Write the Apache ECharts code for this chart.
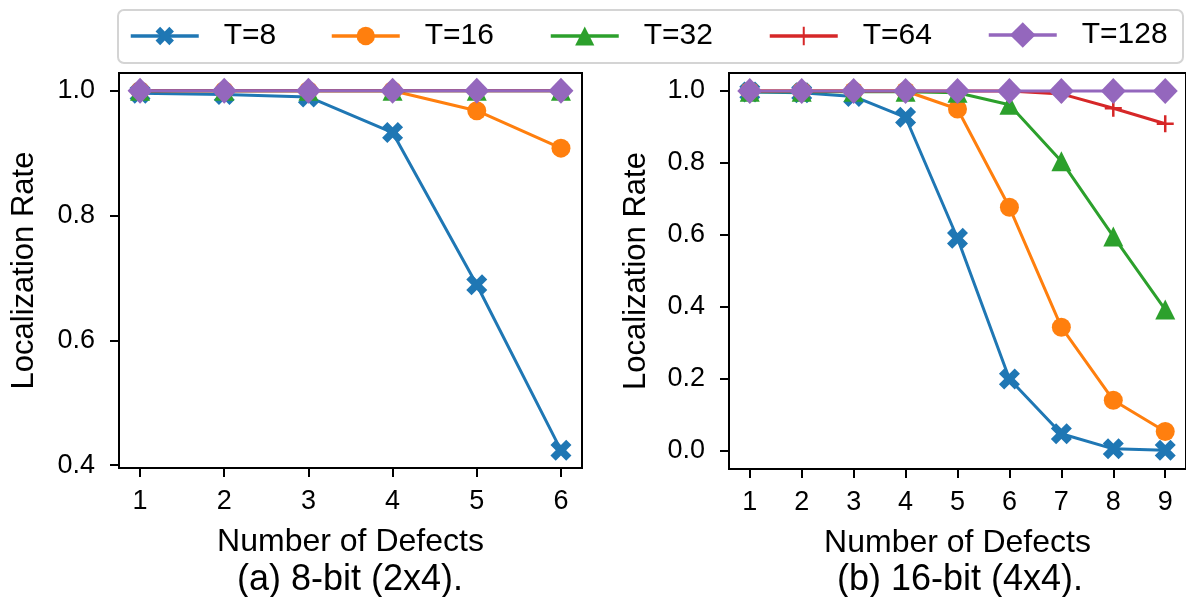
<!DOCTYPE html>
<html>
<head>
<meta charset="utf-8">
<script src="https://cdn.jsdelivr.net/npm/echarts@6/dist/echarts.min.js"></script>
<style>
  html, body { margin: 0; padding: 0; background: #fff; }
  #chart { width: 1186px; height: 597px; }
</style>
</head>
<body>
<div id="chart"></div>
<script>
// x values (number of defects)
const defectsA = [1, 2, 3, 4, 5, 6]
const defectsB = [1, 2, 3, 4, 5, 6, 7, 8, 9]
const seriesNames = ['T=8', 'T=16', 'T=32', 'T=64', 'T=128']

// (a) 8-bit (2x4)
const rateA_T8 = [0.996, 0.994, 0.990, 0.933, 0.689, 0.424]
const rateA_T16 = [1.0, 1.0, 1.0, 1.0, 0.968, 0.908]
const rateA_T32 = [1.0, 1.0, 1.0, 1.0, 1.0, 1.0]
const rateA_T64 = [1.0, 1.0, 1.0, 1.0, 1.0, 1.0]
const rateA_T128 = [1.0, 1.0, 1.0, 1.0, 1.0, 1.0]

// (b) 16-bit (4x4)
const rateB_T8 = [0.997, 0.995, 0.985, 0.927, 0.591, 0.200, 0.048, 0.006, 0.002]
const rateB_T16 = [1.0, 1.0, 1.0, 1.0, 0.950, 0.677, 0.344, 0.141, 0.054]
const rateB_T32 = [0.998, 0.998, 0.998, 0.998, 0.995, 0.962, 0.805, 0.596, 0.393]
const rateB_T64 = [1.0, 1.0, 1.0, 1.0, 1.0, 1.0, 0.992, 0.952, 0.909]
const rateB_T128 = [1.0, 1.0, 1.0, 1.0, 1.0, 1.0, 1.0, 1.0, 1.0]

const yTicksA = [0.4, 0.6, 0.8, 1.0]
const yTicksB = [0.0, 0.2, 0.4, 0.6, 0.8, 1.0]
const captions = ['(a) 8-bit (2x4).', '(b) 16-bit (4x4).']

const colors = ['#1f77b4', '#ff7f0e', '#2ca02c', '#d62728', '#9467bd']
// matplotlib-like markers: filled X, circle, triangle, plus, diamond
const symbols = [
  'path://M1,0L2,1L3,0L4,1L3,2L4,3L3,4L2,3L1,4L0,3L1,2L0,1Z',
  'circle',
  'triangle',
  'path://M0,5L10,5M5,0L5,10',
  'diamond'
]
const symbolSizes = [21, 19, 20, 17, [25, 26]]
const legendIconH = [23, 23, 24, 23, 32]
const legendLeft = [129, 330, 549, 768, 987]
const font = 'Liberation Sans'

function makeSeries(idx, xs, ys, gridIdx) {
  let color = colors[idx]
  let itemStyle = { color: color }
  if (idx === 3) {
    itemStyle = { color: color, borderColor: color, borderWidth: 2.5 }
  }
  return {
    name: seriesNames[idx],
    type: 'line',
    xAxisIndex: gridIdx,
    yAxisIndex: gridIdx,
    data: xs.map((x, i) => [x, ys[i]]),
    symbol: symbols[idx],
    symbolSize: symbolSizes[idx],
    showAllSymbol: true,
    lineStyle: { color: color, width: 3 },
    itemStyle: itemStyle,
    z: 2 + idx,
    emphasis: { disabled: true }
  }
}

function xAxis(gridIdx, xs, min, max) {
  return {
    type: 'value',
    gridIndex: gridIdx,
    min: min,
    max: max,
    name: 'Number of Defects',
    nameLocation: 'middle',
    nameGap: 58,
    nameTextStyle: { fontFamily: font, fontSize: 32, color: '#000' },
    axisLine: { show: false, onZero: false },
    splitLine: { show: false },
    axisTick: { show: true, length: 9, customValues: xs, lineStyle: { color: '#000', width: 2 } },
    axisLabel: { customValues: xs, margin: 20, fontFamily: font, fontSize: 27, color: '#000' }
  }
}

function yAxis(gridIdx, ticks, min, max, gap) {
  return {
    type: 'value',
    gridIndex: gridIdx,
    min: min,
    max: max,
    name: 'Localization Rate',
    nameLocation: 'middle',
    nameRotate: 90,
    nameGap: gap,
    nameTextStyle: { fontFamily: font, fontSize: 31, color: '#000' },
    axisLine: { show: false, onZero: false },
    splitLine: { show: false },
    axisTick: { show: true, length: 9, customValues: ticks, lineStyle: { color: '#000', width: 2 } },
    axisLabel: {
      customValues: ticks,
      margin: 24,
      fontFamily: font,
      fontSize: 27,
      color: '#000',
      formatter: v => v.toFixed(1)
    }
  }
}

const series = [
  makeSeries(0, defectsA, rateA_T8, 0),
  makeSeries(1, defectsA, rateA_T16, 0),
  makeSeries(2, defectsA, rateA_T32, 0),
  makeSeries(3, defectsA, rateA_T64, 0),
  makeSeries(4, defectsA, rateA_T128, 0),
  makeSeries(0, defectsB, rateB_T8, 1),
  makeSeries(1, defectsB, rateB_T16, 1),
  makeSeries(2, defectsB, rateB_T32, 1),
  makeSeries(3, defectsB, rateB_T64, 1),
  makeSeries(4, defectsB, rateB_T128, 1)
]

// one legend per entry so the columns sit where matplotlib put them
const legends = seriesNames.map((name, i) => ({
  data: [name],
  left: legendLeft[i],
  top: 36 - Math.max(legendIconH[i], 30) / 2,
  padding: 0,
  itemWidth: 68,
  itemHeight: legendIconH[i],
  selectedMode: false,
  lineStyle: { width: 3.5 },
  textStyle: { fontFamily: font, fontSize: 30, color: '#000', padding: [0, 0, 0, 20] }
}))

const myChart = echarts.init(document.getElementById('chart'), null, { renderer: 'canvas' })
myChart.setOption({
  animation: false,
  backgroundColor: '#fff',
  legend: legends,
  grid: [
    { left: 119, top: 73, width: 463, height: 395, show: true, borderColor: '#000', borderWidth: 2, backgroundColor: 'transparent' },
    { left: 729, top: 73, width: 463, height: 396, show: true, borderColor: '#000', borderWidth: 2, backgroundColor: 'transparent' }
  ],
  xAxis: [xAxis(0, defectsA, 0.75, 6.25), xAxis(1, defectsB, 0.6, 9.4)],
  yAxis: [yAxis(0, yTicksA, 0.3954, 1.0284, 79), yAxis(1, yTicksB, -0.05, 1.05, 77)],
  graphic: [
    {
      type: 'rect',
      z: -1,
      shape: { x: 118, y: 10, width: 1065, height: 53, r: 6 },
      style: { fill: '#fff', stroke: '#d4d4d4', lineWidth: 2 }
    },
    {
      type: 'text',
      x: 350,
      y: 580,
      style: { text: captions[0], fontFamily: font, fontSize: 36, fill: '#000', align: 'center', verticalAlign: 'middle' }
    },
    {
      type: 'text',
      x: 960,
      y: 580,
      style: { text: captions[1], fontFamily: font, fontSize: 36, fill: '#000', align: 'center', verticalAlign: 'middle' }
    }
  ],
  series: series
})
</script>
</body>
</html>
